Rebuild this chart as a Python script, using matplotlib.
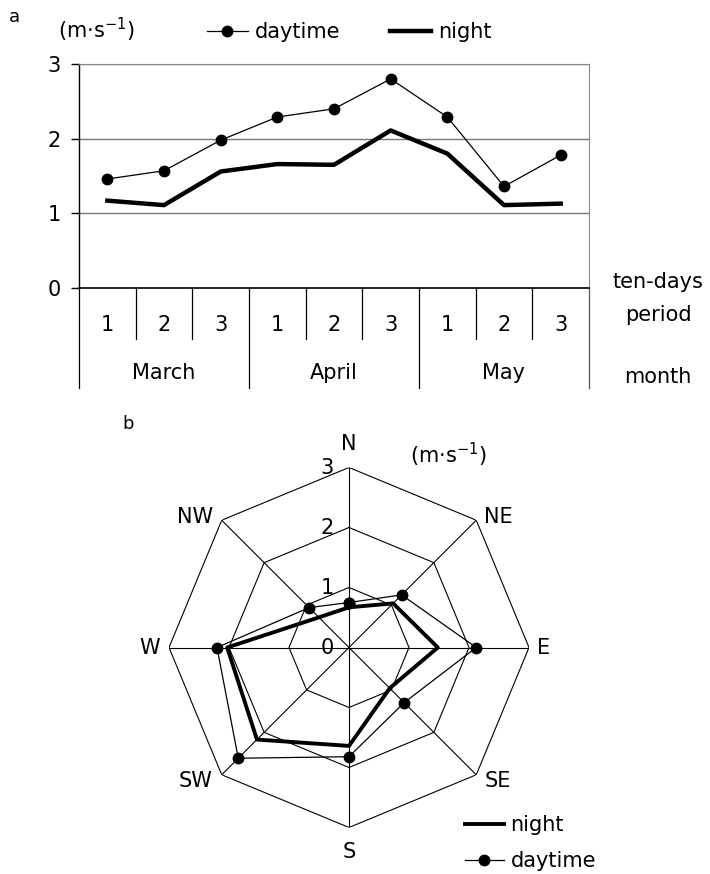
import numpy as np
import matplotlib
matplotlib.use("Agg")
from matplotlib import pyplot as plt

plt.rcParams['font.family'] = ['DejaVu Sans']
plt.rcParams['mathtext.fontset'] = 'dejavusans'
plt.rcParams['mathtext.default'] = 'regular'
plt.rcParams['font.size'] = 15

# panel a: ten-day means
periods = ['1', '2', '3', '1', '2', '3', '1', '2', '3']
months = ['March', 'April', 'May']
day_speed = [1.46, 1.57, 1.98, 2.29, 2.40, 2.80, 2.29, 1.36, 1.78]
night_speed = [1.17, 1.11, 1.56, 1.66, 1.65, 2.11, 1.80, 1.11, 1.13]
y_ticks = [0, 1, 2, 3]

# panel b: by wind direction
directions = ['N', 'NE', 'E', 'SE', 'S', 'SW', 'W', 'NW']
day_dir = [0.75, 1.24, 2.12, 1.30, 1.82, 2.61, 2.20, 0.94]
night_dir = [0.67, 1.04, 1.48, 0.96, 1.64, 2.17, 2.03, 0.71]
rings = [1, 2, 3]

W, H = 710, 874
FS = 15
fig = plt.figure(figsize=(W / 100, H / 100), dpi=100)

# ---------------- panel a ----------------
ax = fig.add_axes([79 / W, 1 - 288 / H, 510 / W, 224 / H])
x = np.arange(len(periods)) + 0.5
ax.plot(x, day_speed, color='black', lw=0.9, marker='o', ms=7.5, label='daytime')
ax.plot(x, night_speed, color='black', lw=3.2, label='night')
ax.set_xlim(0, len(periods))
ax.set_ylim(0, 3)
ax.set_yticks(y_ticks)
ax.set_xticks([])
for v in y_ticks[1:]:
    ax.axhline(v, color='#777777', lw=1.0, zorder=0)
for s in ['top', 'right']:
    ax.spines[s].set_color('#888888')
ax.spines['left'].set_color('black')
ax.spines['bottom'].set_color('black')
ax.spines['left'].set_linewidth(1.0)
ax.spines['bottom'].set_linewidth(1.2)
ax.tick_params(axis='y', length=6, width=1.0, pad=7, labelsize=FS)

# category table below the axis
px = 224 / 3  # pixels per unit on y
minor_bottom = -51 / px
major_bottom = -100 / px
for i in range(len(periods) + 1):
    bottom = major_bottom if i % 3 == 0 else minor_bottom
    col = '#555555' if i == len(periods) else 'black'
    ax.plot([i, i], [0, bottom], color=col, lw=0.9, clip_on=False)
for i, p in enumerate(periods):
    ax.text(i + 0.5, -37 / px, p, ha='center', va='center', fontsize=FS)
for j, m in enumerate(months):
    ax.text(j * 3 + 1.5, -85 / px, m, ha='center', va='center', fontsize=FS)
ax.text(10.22, 6 / px, 'ten-days', ha='center', va='center', fontsize=FS)
ax.text(10.22, -27 / px, 'period', ha='center', va='center', fontsize=FS)
ax.text(10.22, -89 / px, 'month', ha='center', va='center', fontsize=FS)

ax.legend(loc='center left', bbox_to_anchor=(207 / W, 1 - 32 / H),
          bbox_transform=fig.transFigure, ncol=2, frameon=False, fontsize=FS,
          borderpad=0, borderaxespad=0, handlelength=1.95, handletextpad=0.34,
          columnspacing=2.4)
fig.text(96 / W, 1 - 30 / H, '(m·s$^{-1}$)', ha='center', va='center', fontsize=FS)
fig.text(14 / W, 1 - 17 / H, 'a', ha='center', va='center', fontsize=13)

# ---------------- panel b ----------------
cx, cy, R = 349, 647.5, 180
pax = fig.add_axes([(cx - R) / W, 1 - (cy + R) / H, 2 * R / W, 2 * R / H],
                   projection='polar')
pax.set_theta_zero_location('N')
pax.set_theta_direction(-1)
pax.set_ylim(0, 3)
pax.grid(False)
pax.set_xticks([])
pax.set_yticks([])
pax.spines['polar'].set_visible(False)

theta = np.linspace(0, 2 * np.pi, len(directions), endpoint=False)
closed = np.append(theta, theta[0])
for r in rings:
    pax.plot(closed, [r] * len(closed), color='black', lw=0.8)
for t in theta:
    pax.plot([t, t], [0, rings[-1]], color='black', lw=0.8)

pax.plot(closed, night_dir + night_dir[:1], color='black', lw=2.8, label='night')
pax.plot(closed, day_dir + day_dir[:1], color='black', lw=0.9, marker='o', ms=7.5,
         label='daytime')

for r in [0] + rings:
    pax.annotate(str(r), xy=(0, r), xytext=(-15, 0), textcoords='offset pixels',
                 ha='right', va='center', fontsize=FS)

offsets = {
    'N': (0, 13, 'center', 'bottom'),
    'NE': (8, 3, 'left', 'center'),
    'E': (8, 0, 'left', 'center'),
    'SE': (8, -6, 'left', 'center'),
    'S': (0, -14, 'center', 'top'),
    'SW': (-9, -6, 'right', 'center'),
    'W': (-9, 0, 'right', 'center'),
    'NW': (-9, 3, 'right', 'center'),
}
for t, d in zip(theta, directions):
    dx, dy, ha, va = offsets[d]
    pax.annotate(d, xy=(t, rings[-1]), xytext=(dx, dy), textcoords='offset pixels',
                 ha=ha, va=va, fontsize=FS, annotation_clip=False)

fig.text(448 / W, 1 - 455 / H, '(m·s$^{-1}$)', ha='center', va='center', fontsize=FS)
fig.text(128 / W, 1 - 424 / H, 'b', ha='center', va='center', fontsize=13)

pax.legend(loc='center left', bbox_to_anchor=(465 / W, 1 - 843 / H),
           bbox_transform=fig.transFigure, frameon=False, fontsize=FS,
           borderpad=0, borderaxespad=0, handlelength=1.85, handletextpad=0.34,
           labelspacing=0.75)

fig.savefig('out.png', dpi=100)
